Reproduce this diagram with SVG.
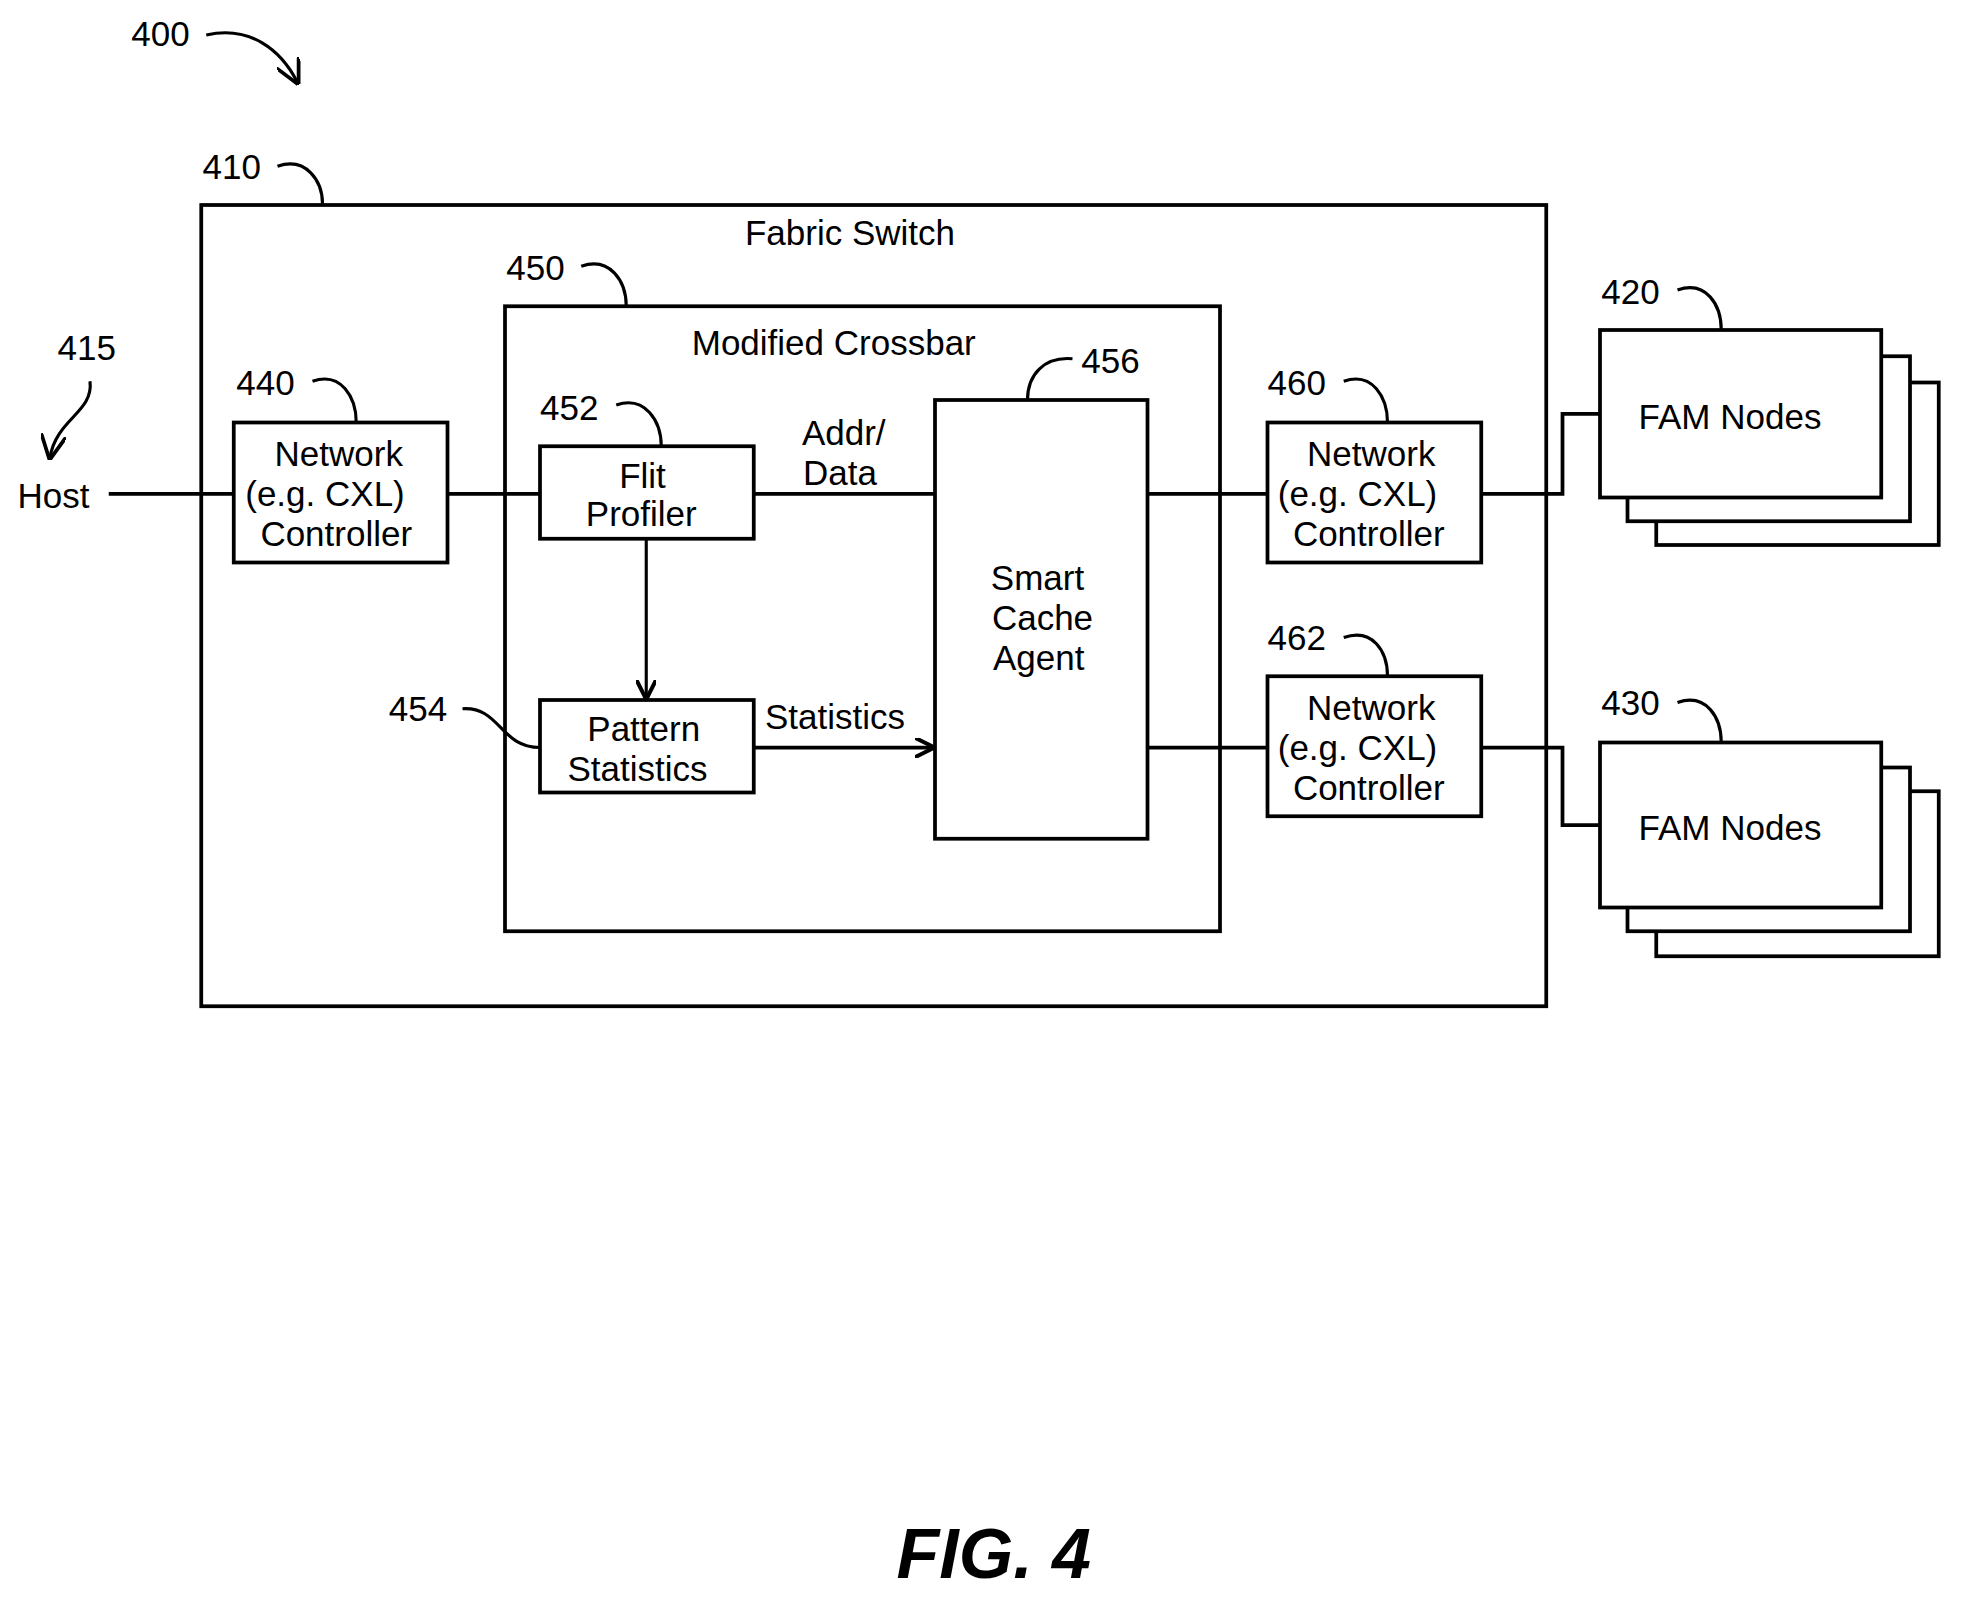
<svg xmlns="http://www.w3.org/2000/svg" width="1961" height="1602" viewBox="0 0 1961 1602">
<style>
.b{fill:#fff;stroke:#000;stroke-width:3}
.l{fill:none;stroke:#000;stroke-width:3}
.t{fill:none;stroke:#000;stroke-width:2.5}
text{font-family:"Liberation Sans",Arial,sans-serif;font-size:28px;fill:#000}
.c{text-anchor:middle}
</style>
<defs>
<marker id="ah" viewBox="0 0 10 10" refX="9" refY="5" markerWidth="16" markerHeight="16" markerUnits="userSpaceOnUse" orient="auto"><path d="M0,0 L10,5 L0,10" fill="none" stroke="#000" stroke-width="2"/></marker>
<marker id="ah2" viewBox="0 0 10 10" refX="9" refY="5" markerWidth="20" markerHeight="20" markerUnits="userSpaceOnUse" orient="auto"><path d="M0,0 L10,5 L0,10" fill="none" stroke="#000" stroke-width="1.5"/></marker>
</defs>
<rect width="1961" height="1602" fill="#fff"/>
<g transform="scale(1.25)">
<g id="fabric"><rect class="b" x="161" y="164" width="1076" height="641"/><text class="c" x="680" y="196">Fabric Switch</text></g>
<g id="crossbar"><rect class="b" x="404" y="245" width="572" height="500"/><text class="c" x="667" y="284">Modified Crossbar</text></g>
<g id="labels">
<text x="105" y="37">400</text>
<path class="t" d="M165,28 C200,20 225,40 238,66" marker-end="url(#ah2)"/>
<text x="162" y="143">410</text>
<path class="t" d="M222,133 C245,125 258,145 258,163"/>
<text x="405" y="224">450</text>
<path class="t" d="M465,213 C488,205 501,225 501,245"/>
<text x="46" y="288">415</text>
<path class="t" d="M72,305 C75,330 45,335 40,366" marker-end="url(#ah2)"/>
<text x="189" y="316">440</text>
<path class="t" d="M250,305 C273,297 285,318 285,338"/>
<text x="432" y="336">452</text>
<path class="t" d="M493,324 C516,316 529,337 529,357"/>
<text x="865" y="298">456</text>
<path class="t" d="M858,287 C835,285 822,300 822,320"/>
<text x="311" y="577">454</text>
<path class="t" d="M370,567 C400,565 400,598 432,598"/>
<text x="1014" y="316">460</text>
<path class="t" d="M1075,305 C1098,297 1110,318 1110,338"/>
<text x="1014" y="520">462</text>
<path class="t" d="M1075,510 C1098,502 1110,521 1110,541"/>
<text x="1281" y="243">420</text>
<path class="t" d="M1342,232 C1365,224 1377,244 1377,264"/>
<text x="1281" y="572">430</text>
<path class="t" d="M1342,562 C1365,554 1377,574 1377,594"/>
<text x="14" y="406">Host</text>
</g>
<g id="connectors">
<path class="l" d="M87,395 H187 M358,395 H432 M603,395 H748 M918,395 H1014 M1185,395 H1250 V331 H1280 M918,598 H1014 M1185,598 H1250 V660 H1280"/>
<path class="t" d="M517,431 V558" marker-end="url(#ah)"/>
<path class="l" d="M603,598 H746" marker-end="url(#ah)"/>
<text class="c" x="675" y="356">Addr/</text>
<text class="c" x="672" y="388">Data</text>
<text class="c" x="668" y="583">Statistics</text>
</g>
<g id="n440"><rect class="b" x="187" y="338" width="171" height="112"/><text class="c" x="271" y="373">Network</text><text class="c" x="260" y="405">(e.g. CXL)</text><text class="c" x="269" y="437">Controller</text></g>
<g id="n452"><rect class="b" x="432" y="357" width="171" height="74"/><text class="c" x="514" y="390">Flit</text><text class="c" x="513" y="421">Profiler</text></g>
<g id="n454"><rect class="b" x="432" y="560" width="171" height="74"/><text class="c" x="515" y="593">Pattern</text><text class="c" x="510" y="625">Statistics</text></g>
<g id="n456"><rect class="b" x="748" y="320" width="170" height="351"/><text class="c" x="830" y="472">Smart</text><text class="c" x="834" y="504">Cache</text><text class="c" x="831" y="536">Agent</text></g>
<g id="n460"><rect class="b" x="1014" y="338" width="171" height="112"/><text class="c" x="1097" y="373">Network</text><text class="c" x="1086" y="405">(e.g. CXL)</text><text class="c" x="1095" y="437">Controller</text></g>
<g id="n462"><rect class="b" x="1014" y="541" width="171" height="112"/><text class="c" x="1097" y="576">Network</text><text class="c" x="1086" y="608">(e.g. CXL)</text><text class="c" x="1095" y="640">Controller</text></g>
<g id="n420"><rect class="b" x="1325" y="306" width="226" height="130"/><rect class="b" x="1302" y="285" width="226" height="132"/><rect class="b" x="1280" y="264" width="225" height="134"/><text class="c" x="1384" y="343">FAM Nodes</text></g>
<g id="n430"><rect class="b" x="1325" y="633" width="226" height="132"/><rect class="b" x="1302" y="614" width="226" height="131"/><rect class="b" x="1280" y="594" width="225" height="132"/><text class="c" x="1384" y="672">FAM Nodes</text></g>
<text class="c" x="795" y="1262" style="font-size:56px;font-weight:bold;font-style:italic">FIG. 4</text>
</g>
</svg>
